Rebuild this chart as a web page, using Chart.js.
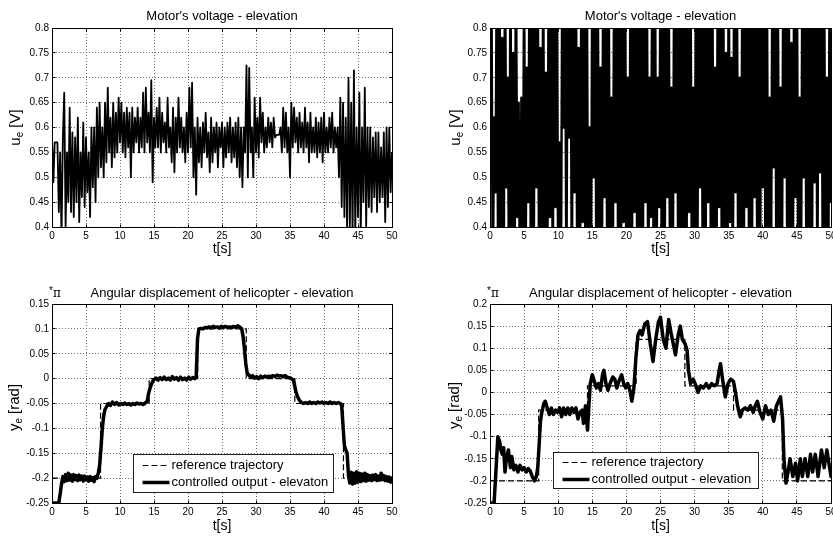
<!DOCTYPE html>
<html>
<head>
<meta charset="utf-8">
<script src="https://cdn.jsdelivr.net/npm/chart.js@4.4.1/dist/chart.umd.min.js"></script>
<style>
html, body { margin: 0; padding: 0; background: #fff; }
#wrap { position: relative; width: 833px; height: 536px; overflow: hidden; background: #fff; }
canvas { position: absolute; }
</style>
</head>
<body>
<div id="wrap">
  <canvas id="c1" width="416" height="270" style="left:0;top:0"></canvas>
  <canvas id="c2" width="417" height="270" style="left:416px;top:0"></canvas>
  <canvas id="c3" width="416" height="266" style="left:0;top:270px"></canvas>
  <canvas id="c4" width="417" height="266" style="left:416px;top:270px"></canvas>
</div>
<script>
// ---------------- DATA ----------------
const sampleStep = 0.2; // seconds between voltage samples

// Motor's voltage - elevation (left panel), t = 0 .. 50 s
const voltageLeft = [
  0.58, 0.49, 0.57, 0.57, 0.57, 0.43, 0.55, 0.38, 0.58, 0.67,
  0.40, 0.55, 0.45, 0.64, 0.43, 0.59, 0.42, 0.58, 0.45, 0.62,
  0.41, 0.55, 0.46, 0.61, 0.44, 0.58, 0.47, 0.55, 0.42, 0.60,
  0.48, 0.60, 0.45, 0.64, 0.50, 0.65, 0.52, 0.60, 0.50, 0.65,
  0.53, 0.68, 0.55, 0.62, 0.52, 0.65, 0.54, 0.63, 0.55, 0.66,
  0.57, 0.65, 0.55, 0.63, 0.54, 0.64, 0.56, 0.63, 0.50, 0.64,
  0.55, 0.62, 0.57, 0.64, 0.55, 0.62, 0.56, 0.67, 0.55, 0.68,
  0.57, 0.63, 0.55, 0.695, 0.49, 0.62, 0.56, 0.64, 0.56, 0.66,
  0.55, 0.63, 0.57, 0.61, 0.55, 0.66, 0.56, 0.60, 0.53, 0.64,
  0.51, 0.62, 0.55, 0.66, 0.56, 0.62, 0.55, 0.60, 0.53, 0.63,
  0.55, 0.68, 0.56, 0.69, 0.50, 0.60, 0.465, 0.62, 0.53, 0.60,
  0.52, 0.61, 0.55, 0.63, 0.54, 0.59, 0.51, 0.62, 0.53, 0.60,
  0.55, 0.61, 0.52, 0.60, 0.56, 0.61, 0.52, 0.60, 0.54, 0.61,
  0.55, 0.62, 0.53, 0.60, 0.54, 0.61, 0.52, 0.62, 0.50, 0.60,
  0.48, 0.60, 0.55, 0.725, 0.50, 0.72, 0.55, 0.60, 0.50, 0.66,
  0.55, 0.62, 0.54, 0.66, 0.57, 0.63, 0.55, 0.60, 0.56, 0.62,
  0.57, 0.61, 0.56, 0.62, 0.58, 0.585, 0.585, 0.585, 0.60, 0.55,
  0.64, 0.56, 0.63, 0.55, 0.60, 0.50, 0.65, 0.56, 0.64, 0.57,
  0.62, 0.55, 0.63, 0.56, 0.61, 0.55, 0.64, 0.56, 0.61, 0.53,
  0.63, 0.55, 0.60, 0.55, 0.62, 0.54, 0.61, 0.55, 0.62, 0.53,
  0.63, 0.55, 0.60, 0.55, 0.62, 0.56, 0.63, 0.55, 0.60, 0.56,
  0.60, 0.50, 0.66, 0.44, 0.65, 0.42, 0.62, 0.39, 0.70, 0.40,
  0.65, 0.38, 0.715, 0.38, 0.60, 0.42, 0.67, 0.38, 0.60, 0.45,
  0.68, 0.40, 0.60, 0.44, 0.60, 0.43, 0.58, 0.46, 0.59, 0.43,
  0.59, 0.45, 0.56, 0.46, 0.59, 0.41, 0.60, 0.44, 0.60, 0.47,
  0.55
];

// Motor's voltage - elevation (right panel, saturated), t = 0 .. 50 s
const voltageRight = [
  0.60, 0.95, 0.25, 0.62, 0.47, 0.95, 0.25, 0.95, 0.25, 0.78,
  0.25, 0.95, 0.48, 0.70, 0.25, 0.95, 0.25, 0.75, 0.25, 0.95,
  0.42, 0.65, 0.25, 0.66, 0.25, 0.95, 0.25, 0.72, 0.45, 0.95,
  0.25, 0.95, 0.25, 0.95, 0.48, 0.95, 0.25, 0.76, 0.25, 0.95,
  0.25, 0.71, 0.25, 0.95, 0.42, 0.95, 0.25, 0.95, 0.44, 0.95,
  0.25, 0.57, 0.25, 0.95, 0.60, 0.95, 0.25, 0.95, 0.58, 0.95,
  0.25, 0.95, 0.47, 0.95, 0.25, 0.76, 0.25, 0.95, 0.41, 0.95,
  0.25, 0.95, 0.25, 0.60, 0.25, 0.95, 0.50, 0.95, 0.25, 0.95,
  0.25, 0.72, 0.25, 0.95, 0.46, 0.95, 0.25, 0.95, 0.25, 0.66,
  0.25, 0.95, 0.45, 0.95, 0.25, 0.95, 0.25, 0.95, 0.41, 0.95,
  0.25, 0.70, 0.25, 0.95, 0.25, 0.95, 0.43, 0.95, 0.25, 0.95,
  0.25, 0.95, 0.25, 0.95, 0.45, 0.95, 0.25, 0.70, 0.42, 0.95,
  0.25, 0.95, 0.25, 0.70, 0.44, 0.95, 0.25, 0.95, 0.25, 0.95,
  0.46, 0.95, 0.25, 0.68, 0.25, 0.95, 0.47, 0.95, 0.25, 0.95,
  0.25, 0.95, 0.25, 0.95, 0.25, 0.95, 0.43, 0.95, 0.25, 0.68,
  0.25, 0.95, 0.25, 0.95, 0.48, 0.95, 0.25, 0.95, 0.25, 0.95,
  0.45, 0.95, 0.25, 0.95, 0.25, 0.72, 0.25, 0.95, 0.44, 0.95,
  0.25, 0.95, 0.25, 0.75, 0.25, 0.95, 0.41, 0.74, 0.25, 0.95,
  0.47, 0.95, 0.25, 0.70, 0.25, 0.95, 0.25, 0.95, 0.44, 0.95,
  0.25, 0.95, 0.25, 0.95, 0.46, 0.95, 0.25, 0.95, 0.25, 0.95,
  0.48, 0.95, 0.25, 0.95, 0.25, 0.66, 0.25, 0.95, 0.52, 0.95,
  0.25, 0.95, 0.25, 0.68, 0.25, 0.95, 0.50, 0.95, 0.25, 0.95,
  0.25, 0.77, 0.25, 0.95, 0.46, 0.95, 0.25, 0.66, 0.25, 0.95,
  0.50, 0.95, 0.25, 0.95, 0.25, 0.95, 0.25, 0.95, 0.49, 0.95,
  0.25, 0.95, 0.51, 0.95, 0.25, 0.95, 0.25, 0.70, 0.25, 0.95,
  0.45
];

// reference trajectory: switching instants (s) and levels (*pi rad)
const switchTimes = [0, 7.14, 14.29, 21.43, 28.57, 35.71, 42.86, 50];
const refLevelsLeft  = [-0.2, -0.05, 0, 0.1, 0, -0.05, -0.2];
const refLevelsRight = [-0.2, -0.04, 0.015, 0.12, 0.015, -0.04, -0.2];

// controlled output [t (s), y (*pi rad)] - left panel
const outputLeft = [
  [0,-0.25],[1.0,-0.25],[1.2,-0.232],[1.4,-0.212],[1.6,-0.197],[1.8,-0.207],
  [2.0,-0.193],[2.2,-0.205],[2.4,-0.19],[2.6,-0.204],[2.8,-0.194],[3.0,-0.206],
  [3.2,-0.193],[3.4,-0.203],[3.6,-0.195],[3.8,-0.205],[4.0,-0.194],[4.2,-0.203],
  [4.4,-0.196],[4.6,-0.206],[4.8,-0.196],[5.0,-0.203],[5.2,-0.198],[5.4,-0.206],
  [5.6,-0.197],[5.8,-0.204],[6.0,-0.199],[6.2,-0.207],[6.4,-0.197],[6.6,-0.2],
  [6.8,-0.19],[7.0,-0.175],[7.2,-0.14],[7.4,-0.1],[7.6,-0.075],[7.8,-0.062],
  [8.0,-0.057],[8.3,-0.05],[8.6,-0.054],[8.9,-0.047],[9.2,-0.052],[9.5,-0.048],
  [9.8,-0.053],[10.1,-0.05],[10.4,-0.052],[10.7,-0.049],[11.0,-0.052],[11.3,-0.05],
  [11.6,-0.053],[11.9,-0.05],[12.2,-0.052],[12.5,-0.049],[12.8,-0.051],[13.1,-0.05],
  [13.4,-0.052],[13.7,-0.049],[14.0,-0.046],[14.2,-0.03],[14.4,-0.02],[14.6,-0.012],
  [14.8,-0.006],[15.0,-0.002],[15.3,0.001],[15.6,-0.003],[15.9,0.002],[16.2,-0.002],
  [16.5,0.003],[16.8,-0.002],[17.1,0.001],[17.4,-0.003],[17.7,0.004],[18.0,-0.001],
  [18.3,0.002],[18.6,-0.003],[18.9,0.003],[19.2,-0.002],[19.5,0.001],[19.8,-0.003],
  [20.1,0.003],[20.4,-0.001],[20.7,0.002],[21.0,0],[21.2,0.003],[21.4,0.08],
  [21.6,0.1],[21.9,0.101],[22.2,0.1],[22.5,0.103],[22.8,0.102],[23.1,0.104],
  [23.4,0.102],[23.7,0.105],[24.0,0.103],[24.3,0.104],[24.6,0.102],[24.9,0.105],
  [25.2,0.103],[25.5,0.105],[25.8,0.103],[26.1,0.104],[26.4,0.103],[26.7,0.105],
  [27.0,0.103],[27.3,0.106],[27.6,0.104],[27.9,0.1],[28.1,0.085],[28.3,0.06],
  [28.5,0.03],[28.7,0.012],[28.9,0.008],[29.2,0.003],[29.5,0.006],[29.8,0.001],
  [30.1,0.004],[30.4,0],[30.7,0.005],[31.0,0.002],[31.3,0.005],[31.6,0.003],
  [31.9,0.005],[32.2,0.004],[32.5,0.006],[32.8,0.004],[33.1,0.007],[33.4,0.005],
  [33.7,0.006],[34.0,0.004],[34.3,0.006],[34.6,0.003],[34.9,0.002],[35.2,0],
  [35.5,-0.003],[35.7,-0.015],[35.9,-0.028],[36.1,-0.036],[36.4,-0.044],[36.7,-0.048],
  [37.0,-0.05],[37.3,-0.048],[37.6,-0.05],[37.9,-0.047],[38.2,-0.05],[38.5,-0.048],
  [38.8,-0.05],[39.1,-0.047],[39.4,-0.049],[39.7,-0.047],[40.0,-0.05],[40.3,-0.048],
  [40.6,-0.05],[40.9,-0.047],[41.2,-0.05],[41.5,-0.048],[41.8,-0.05],[42.1,-0.048],
  [42.4,-0.05],[42.6,-0.055],[42.8,-0.095],[43.0,-0.135],[43.2,-0.143],[43.4,-0.15],
  [43.6,-0.195],[43.8,-0.21],[44.0,-0.188],[44.2,-0.212],[44.4,-0.19],[44.6,-0.21],
  [44.8,-0.187],[45.0,-0.208],[45.2,-0.19],[45.4,-0.207],[45.6,-0.192],[45.8,-0.205],
  [46.0,-0.19],[46.2,-0.206],[46.4,-0.193],[46.6,-0.204],[46.8,-0.195],[47.0,-0.205],
  [47.2,-0.194],[47.4,-0.203],[47.6,-0.193],[47.8,-0.205],[48.0,-0.196],[48.2,-0.204],
  [48.4,-0.19],[48.6,-0.203],[48.8,-0.195],[49.0,-0.205],[49.2,-0.197],[49.4,-0.206],
  [49.6,-0.198],[49.8,-0.208],[50,-0.2]
];

// controlled output [t (s), y (*pi rad)] - right panel
const outputRight = [
  [0,-0.25],[0.6,-0.25],[0.9,-0.17],[1.15,-0.1],[1.4,-0.11],[1.6,-0.13],[1.8,-0.14],
  [2.0,-0.125],[2.2,-0.18],[2.4,-0.15],[2.7,-0.13],[3.0,-0.17],[3.2,-0.145],[3.5,-0.175],
  [3.8,-0.165],[4.1,-0.18],[4.4,-0.165],[4.7,-0.175],[5.0,-0.17],[5.3,-0.18],[5.6,-0.172],
  [5.9,-0.178],[6.2,-0.19],[6.5,-0.2],[6.8,-0.19],[7.0,-0.17],[7.2,-0.12],[7.4,-0.065],
  [7.6,-0.045],[7.9,-0.025],[8.1,-0.02],[8.4,-0.035],[8.7,-0.05],[9.0,-0.035],[9.3,-0.05],
  [9.6,-0.04],[9.9,-0.045],[10.2,-0.035],[10.5,-0.055],[10.8,-0.035],[11.1,-0.05],
  [11.4,-0.035],[11.7,-0.05],[12.0,-0.035],[12.3,-0.045],[12.6,-0.035],[12.9,-0.06],
  [13.2,-0.045],[13.5,-0.04],[13.7,-0.07],[14.0,-0.03],[14.3,-0.085],[14.5,-0.03],
  [14.7,0.02],[15.0,0.04],[15.3,0.025],[15.6,0.01],[15.9,0.02],[16.2,0.005],[16.5,0.04],
  [16.7,0.05],[17.0,0.02],[17.3,0.005],[17.6,0.02],[18.0,0.035],[18.3,0.03],[18.6,0.01],
  [18.9,0.025],[19.3,0.04],[19.6,0.02],[19.9,0.01],[20.2,0.02],[20.5,0.005],[20.8,-0.02],
  [21.1,0.01],[21.4,0.08],[21.7,0.13],[22.0,0.14],[22.3,0.13],[22.7,0.155],[23.1,0.16],
  [23.5,0.11],[23.9,0.07],[24.3,0.12],[24.7,0.16],[25.0,0.17],[25.4,0.12],[25.8,0.1],
  [26.2,0.165],[26.6,0.13],[27.0,0.1],[27.2,0.085],[27.6,0.13],[27.9,0.15],[28.2,0.12],
  [28.6,0.11],[28.9,0.095],[29.1,0.05],[29.4,0.02],[29.8,0.03],[30.2,0.015],[30.5,0],
  [30.9,0.015],[31.3,0.01],[31.7,0.02],[32.1,0.01],[32.5,0.02],[32.9,0.015],[33.3,0.02],
  [33.6,0.05],[33.8,0.065],[34.1,0.03],[34.5,-0.01],[34.9,0.02],[35.3,0.03],[35.7,0.025],
  [36.0,0],[36.3,-0.03],[36.7,-0.055],[37.0,-0.04],[37.4,-0.035],[37.8,-0.04],[38.2,-0.03],
  [38.6,-0.045],[38.9,-0.03],[39.2,-0.02],[39.6,-0.045],[40.0,-0.06],[40.4,-0.03],
  [40.8,-0.05],[41.2,-0.04],[41.6,-0.065],[42.0,-0.03],[42.3,-0.02],[42.6,-0.01],
  [42.9,-0.06],[43.1,-0.15],[43.4,-0.205],[43.7,-0.18],[44.0,-0.15],[44.4,-0.19],
  [44.8,-0.16],[45.1,-0.2],[45.5,-0.15],[45.8,-0.19],[46.2,-0.15],[46.6,-0.19],
  [47.0,-0.14],[47.3,-0.18],[47.7,-0.14],[48.1,-0.19],[48.6,-0.13],[49.0,-0.17],
  [49.4,-0.13],[49.7,-0.16],[50,-0.19]
];

// ---------------- HELPERS ----------------
const FONT = "'Liberation Sans', Arial, Helvetica, sans-serif";

function sampled(values) {
  return values.map((v, i) => ({ x: Math.round(i * sampleStep * 10) / 10, y: v }));
}
function pairs(list) {
  return list.map(p => ({ x: p[0], y: p[1] }));
}
function steps(levels) {
  const pts = levels.map((v, i) => ({ x: switchTimes[i], y: v }));
  pts.push({ x: switchTimes[switchTimes.length - 1], y: levels[levels.length - 1] });
  return pts;
}
const fmt = v => String(+Number(v).toFixed(3));

const decorById = {};

const decorPlugin = {
  id: 'decor',
  afterDraw(chart) {
    const d = decorById[chart.canvas.id];
    const { ctx, chartArea: a, scales } = chart;
    const L = Math.round(a.left - 0.5) + 0.5, R = Math.round(a.right - 0.5) + 0.5;
    const T = Math.round(a.top - 0.5) + 0.5, B = Math.round(a.bottom - 0.5) + 0.5;
    ctx.save();
    ctx.setLineDash([]);
    ctx.strokeStyle = '#000';
    ctx.lineWidth = 1;
    // inward tick marks
    ctx.beginPath();
    scales.x.ticks.forEach(t => {
      const x = Math.round(scales.x.getPixelForValue(t.value) - 0.5) + 0.5;
      ctx.moveTo(x, B); ctx.lineTo(x, B - 3);
      ctx.moveTo(x, T); ctx.lineTo(x, T + 3);
    });
    scales.y.ticks.forEach(t => {
      const y = Math.round(scales.y.getPixelForValue(t.value) - 0.5) + 0.5;
      ctx.moveTo(L, y); ctx.lineTo(L + 3, y);
      ctx.moveTo(R, y); ctx.lineTo(R - 3, y);
    });
    ctx.stroke();
    // axes box
    ctx.strokeRect(L, T, R - L, B - T);

    // y label with subscript
    const yl = d.ylabel;
    ctx.save();
    ctx.translate(yl.x, (a.top + a.bottom) / 2 + (yl.dy || 0));
    ctx.rotate(-Math.PI / 2);
    ctx.fillStyle = '#000';
    ctx.textAlign = 'left';
    ctx.textBaseline = 'alphabetic';
    const big = '15px ' + FONT, small = '10px ' + FONT;
    ctx.font = big;
    const w1 = ctx.measureText(yl.main).width, w3 = ctx.measureText(yl.rest).width;
    ctx.font = small;
    const w2 = ctx.measureText(yl.sub).width;
    let x = -(w1 + w2 + w3) / 2;
    ctx.font = big; ctx.fillText(yl.main, x, 5); x += w1;
    ctx.font = small; ctx.fillText(yl.sub, x, 8); x += w2;
    ctx.font = big; ctx.fillText(yl.rest, x, 5);
    ctx.restore();

    // *pi multiplier
    if (d.pi) {
      ctx.fillStyle = '#000';
      ctx.textBaseline = 'middle';
      ctx.font = '10px ' + FONT;
      ctx.textAlign = 'right';
      ctx.fillText('*', a.left + 1, a.top - 13);
      ctx.font = "12px 'DejaVu Serif', 'Liberation Serif', serif";
      ctx.textAlign = 'left';
      ctx.fillText('\u03C0', a.left + 1, a.top - 10);
    }

    // legend
    if (d.legend) {
      const g = d.legend;
      const x0 = Math.round(a.left + g.left) + 0.5, y0 = Math.round(a.top + g.top) + 0.5;
      ctx.fillStyle = '#fff';
      ctx.fillRect(x0, y0, g.w, g.h);
      ctx.strokeStyle = '#222';
      ctx.lineWidth = 1;
      ctx.strokeRect(x0, y0, g.w, g.h);
      const ds = chart.data.datasets;
      ctx.strokeStyle = '#000';
      ctx.lineWidth = 1.2;
      ctx.setLineDash([6, 3]);
      ctx.beginPath();
      ctx.moveTo(x0 + 9, y0 + g.row1); ctx.lineTo(x0 + 36, y0 + g.row1);
      ctx.stroke();
      ctx.setLineDash([]);
      ctx.lineWidth = 3.5;
      ctx.beginPath();
      ctx.moveTo(x0 + 9, y0 + g.row2); ctx.lineTo(x0 + 36, y0 + g.row2);
      ctx.stroke();
      ctx.fillStyle = '#000';
      ctx.font = '13px ' + FONT;
      ctx.textAlign = 'left';
      ctx.textBaseline = 'middle';
      ctx.fillText(ds[0].label, x0 + 38, y0 + g.row1);
      ctx.fillText(ds[1].label, x0 + 38, y0 + g.row2);
    }
    ctx.restore();
  }
};

function makeChart(id, cfg) {
  const canvas = document.getElementById(id);
  const W = canvas.width, H = canvas.height;
  const a = cfg.area;
  decorById[id] = cfg.decor;
  const titleLH = 13 * 1.2;
  const tickFont = { family: FONT, size: 10 };
  const grid = { color: '#707070', lineWidth: 1, drawTicks: false };
  const border = { display: true, color: '#000', width: 1, dash: [1, 2] };
  return new Chart(canvas, {
    type: 'line',
    data: { datasets: cfg.datasets },
    options: {
      responsive: false,
      animation: false,
      events: [],
      layout: { padding: { left: 0, top: 0, right: W - a.r, bottom: 0 } },
      plugins: {
        legend: { display: false },
        tooltip: { enabled: false },
        title: {
          display: true,
          fullSize: false,
          text: cfg.title,
          color: '#000',
          font: { family: FONT, size: 13, weight: 'normal' },
          padding: { top: cfg.titleY - titleLH / 2, bottom: a.t - cfg.titleY - titleLH / 2 }
        }
      },
      scales: {
        x: {
          type: 'linear', min: 0, max: 50,
          ticks: { stepSize: 5, padding: 3, color: '#000', font: tickFont, maxRotation: 0, autoSkip: false, callback: fmt },
          grid: grid, border: border,
          title: { display: true, text: 't[s]', color: '#000', font: { family: FONT, size: 14 },
                   padding: { top: 0, bottom: H - cfg.xTitleY - 8.4 } },
          afterFit: s => { s.height = H - a.b; s.paddingLeft = 0; s.paddingRight = 0; }
        },
        y: {
          type: 'linear', min: cfg.yMin, max: cfg.yMax,
          ticks: { stepSize: cfg.yStep, padding: 3, color: '#000', font: tickFont, autoSkip: false, callback: fmt },
          grid: grid, border: border,
          afterFit: s => { s.width = a.l; s.paddingTop = 0; s.paddingBottom = 0; }
        }
      }
    },
    plugins: [decorPlugin]
  });
}

const lineBase = { borderColor: '#000', pointRadius: 0, tension: 0, fill: false };

makeChart('c1', {
  area: { l: 52, t: 28, r: 392, b: 227 }, titleY: 16, xTitleY: 249.5,
  title: "Motor's voltage - elevation",
  yMin: 0.4, yMax: 0.8, yStep: 0.05,
  datasets: [Object.assign({ label: 'u_e', data: sampled(voltageLeft), borderWidth: 1.8, borderJoinStyle: 'round' }, lineBase)],
  decor: { ylabel: { main: 'u', sub: 'e', rest: ' [V]', x: 15 } }
});

makeChart('c2', {
  area: { l: 74, t: 28, r: 415, b: 227 }, titleY: 16, xTitleY: 249.5,
  title: "Motor's voltage - elevation",
  yMin: 0.4, yMax: 0.8, yStep: 0.05,
  datasets: [Object.assign({ label: 'u_e', data: sampled(voltageRight), borderWidth: 2.4, borderJoinStyle: 'round' }, lineBase)],
  decor: { ylabel: { main: 'u', sub: 'e', rest: ' [V]', x: 39 } }
});

makeChart('c3', {
  area: { l: 52, t: 34, r: 392, b: 233 }, titleY: 23, xTitleY: 256,
  title: 'Angular displacement of helicopter - elevation',
  yMin: -0.25, yMax: 0.15, yStep: 0.05,
  datasets: [
    Object.assign({ label: 'reference trajectory', data: steps(refLevelsLeft), stepped: 'before', borderWidth: 1.2, borderDash: [6, 3] }, lineBase),
    Object.assign({ label: 'controlled output - elevaton', data: pairs(outputLeft), borderWidth: 3.5, borderJoinStyle: 'round', borderCapStyle: 'round' }, lineBase)
  ],
  decor: { ylabel: { main: 'y', sub: 'e', rest: ' [rad]', x: 14, dy: 4 }, pi: true,
           legend: { left: 81, top: 150, w: 200, h: 38, row1: 11, row2: 28 } }
});

makeChart('c4', {
  area: { l: 74, t: 34, r: 415, b: 233 }, titleY: 23, xTitleY: 256,
  title: 'Angular displacement of helicopter - elevation',
  yMin: -0.25, yMax: 0.2, yStep: 0.05,
  datasets: [
    Object.assign({ label: 'reference trajectory', data: steps(refLevelsRight), stepped: 'before', borderWidth: 1.2, borderDash: [6, 3] }, lineBase),
    Object.assign({ label: 'controlled output - elevation', data: pairs(outputRight), borderWidth: 3.5, borderJoinStyle: 'round', borderCapStyle: 'round' }, lineBase)
  ],
  decor: { ylabel: { main: 'y', sub: 'e', rest: ' [rad]', x: 38, dy: 2 }, pi: true,
           legend: { left: 63, top: 148, w: 205, h: 36, row1: 10, row2: 27 } }
});
</script>
</body>
</html>
